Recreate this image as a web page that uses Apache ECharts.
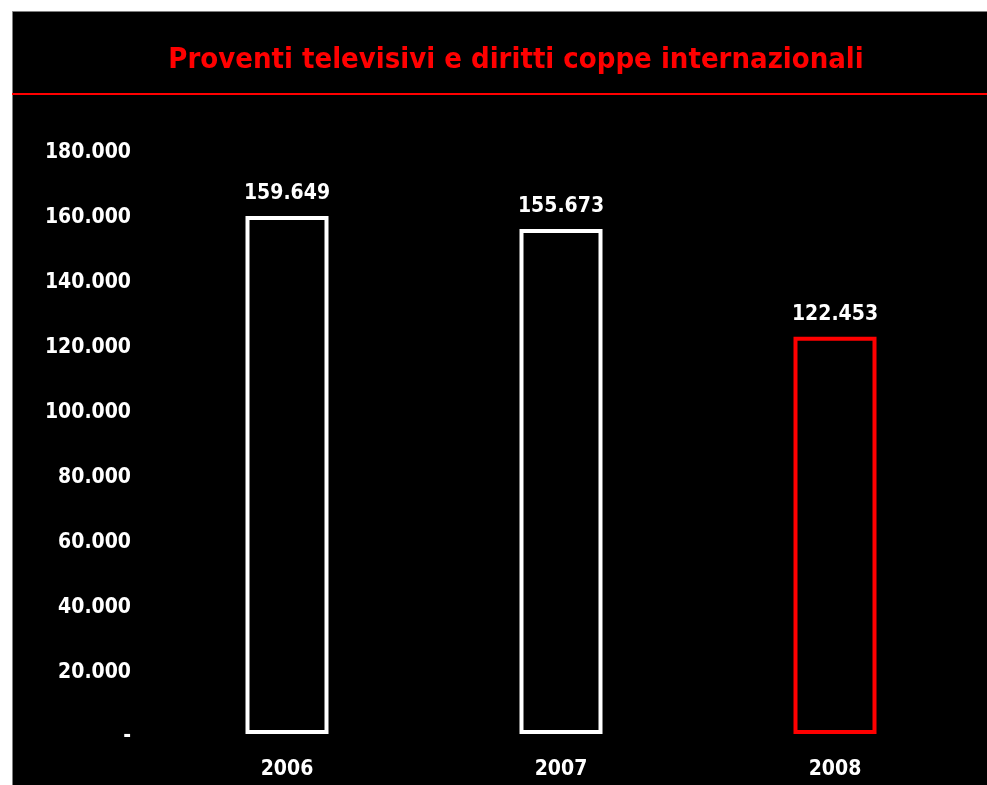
<!DOCTYPE html>
<html>
<head>
<meta charset="utf-8">
<script src="https://cdn.jsdelivr.net/npm/echarts@6/dist/echarts.min.js"></script>
<style>
html,body{margin:0;padding:0;background:#fff;}
#chart{width:987px;height:785px;}
</style>
</head>
<body>
<div id="chart"></div>
<script>
const titleText = 'Proventi televisivi e diritti coppe internazionali';
const categories = ['2006', '2007', '2008'];
const values = [159649, 155673, 122453];
const barBorderColors = ['#ffffff', '#ffffff', '#ff0000'];
const yTicks = [0, 20000, 40000, 60000, 80000, 100000, 120000, 140000, 160000, 180000];

const FONT = '"DejaVu Sans Condensed", "DejaVu Sans", Tahoma, sans-serif';

function fmt(v) {
  if (v === 0) return '-';
  return String(Math.round(v)).replace(/\B(?=(\d{3})+(?!\d))/g, '.');
}

const chart = echarts.init(document.getElementById('chart'), null, {renderer: 'canvas'});
chart.setOption({
  backgroundColor: '#ffffff',
  animation: false,
  graphic: [
    {type: 'rect', z: -10, shape: {x: 12.5, y: 11.5, width: 990, height: 790},
     style: {fill: '#000000', stroke: '#7f7f7f', lineWidth: 1}},
    {type: 'line', z: -5, shape: {x1: 12, y1: 94, x2: 987, y2: 94},
     style: {stroke: '#ff0000', lineWidth: 2}}
  ],
  title: {
    text: titleText,
    left: 511, top: 55, textAlign: 'center', textVerticalAlign: 'middle',
    textStyle: {color: '#ff0000', fontFamily: FONT, fontWeight: 'bold', fontSize: 29}
  },
  grid: {left: 150, right: 15, top: 150, bottom: 51},
  xAxis: {
    type: 'category',
    data: categories,
    axisLine: {show: false},
    axisTick: {show: false},
    axisLabel: {color: '#ffffff', fontFamily: FONT, fontWeight: 'bold', fontSize: 21, margin: 25}
  },
  yAxis: {
    type: 'value',
    min: yTicks[0], max: yTicks[yTicks.length - 1], interval: yTicks[1] - yTicks[0],
    axisLine: {show: false},
    axisTick: {show: false},
    splitLine: {show: false},
    axisLabel: {color: '#ffffff', fontFamily: FONT, fontWeight: 'bold', fontSize: 21, margin: 19,
      formatter: v => '{a|' + fmt(v) + '}',
      rich: {a: {color: '#ffffff', fontFamily: FONT, fontWeight: 'bold', fontSize: 21, padding: [6, 0, 0, 0]}}}
  },
  series: [{
    type: 'bar',
    barWidth: 83,
    data: values.map((v, i) => ({
      value: v,
      itemStyle: {color: '#000000', borderColor: barBorderColors[i], borderWidth: 4}
    })),
    label: {
      show: true, position: 'top', distance: 12,
      color: '#ffffff', fontFamily: FONT, fontWeight: 'bold', fontSize: 21,
      formatter: p => fmt(p.value)
    }
  }]
});
</script>
</body>
</html>
